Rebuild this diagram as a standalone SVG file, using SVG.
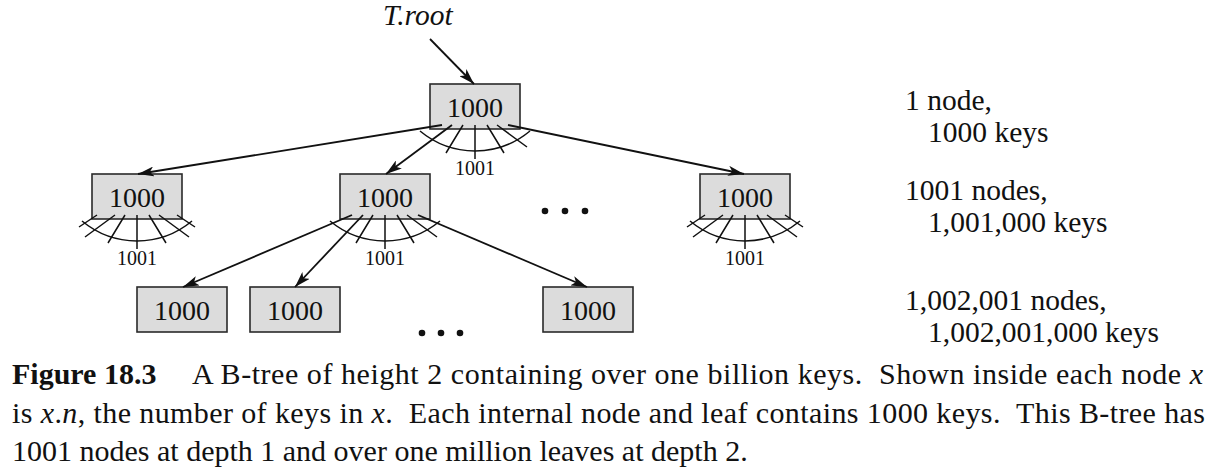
<svg xmlns="http://www.w3.org/2000/svg" xmlns:xlink="http://www.w3.org/1999/xlink" width="1216" height="471" viewBox="0 0 1216 471">
<style>
  .box { fill: #dcdcdc; stroke: #2a2a2a; stroke-width: 1.6; }
  .key { font-family: "Liberation Serif", "Times New Roman", serif; font-size: 28px; text-anchor: middle; fill: #111; }
  .fanl { font-family: "Liberation Serif", "Times New Roman", serif; font-size: 20px; text-anchor: middle; fill: #111; }
  .fan { fill: none; stroke: #111; stroke-width: 1.5; }
  .conn { fill: none; stroke: #111; stroke-width: 1.8; }
  .side { font-family: "Liberation Serif", "Times New Roman", serif; font-size: 29.5px; fill: #111; }
  .cap { font-family: "Liberation Serif", "Times New Roman", serif; font-size: 30px; fill: #111; }
  .dot { fill: #111; }
</style>
<defs>
  <marker id="arr" markerUnits="userSpaceOnUse" viewBox="0 0 16 10" refX="16" refY="5" markerWidth="16" markerHeight="10" orient="auto">
    <path d="M0,0 L16,5 L0,10 L4,5 Z" fill="#111"/>
  </marker>
  <g id="fanInner" class="fan">
    <path d="M-12,0 L-29,28 M0,0 L0,34 M12,0 L29,28 M22,0 L52,22"/>
    <path d="M-55,6 A86,86 0 0 0 55,6"/>
  </g>
  <g id="fanFull" class="fan">
    <path d="M-40,0 L-58,12 M-22,0 L-52,22 M40,0 L58,12"/>
    <use xlink:href="#fanInner"/>
  </g>
</defs>

<g id="troot-label">
  <text class="side" x="383" y="25" font-style="italic" font-size="30">T.root</text>
</g>

<g id="root">
  <rect class="box" x="430" y="84" width="90" height="45"/>
  <text class="key" x="475" y="117">1000</text>
  <use xlink:href="#fanInner" x="475" y="125"/>
  <text class="fanl" x="475" y="175">1001</text>
</g>

<g id="child-left">
  <rect class="box" x="92" y="174" width="90" height="45"/>
  <text class="key" x="137" y="207">1000</text>
  <use xlink:href="#fanFull" x="137" y="215"/>
  <text class="fanl" x="137" y="265">1001</text>
</g>

<g id="child-mid">
  <rect class="box" x="340" y="174" width="90" height="45"/>
  <text class="key" x="385" y="207">1000</text>
  <use xlink:href="#fanInner" x="385" y="215"/>
  <text class="fanl" x="385" y="265">1001</text>
</g>

<g id="child-dots">
  <circle class="dot" cx="545" cy="211" r="3.3"/>
  <circle class="dot" cx="565" cy="211" r="3.3"/>
  <circle class="dot" cx="585" cy="211" r="3.3"/>
</g>

<g id="child-right">
  <rect class="box" x="700" y="174" width="90" height="45"/>
  <text class="key" x="745" y="207">1000</text>
  <use xlink:href="#fanFull" x="745" y="215"/>
  <text class="fanl" x="745" y="265">1001</text>
</g>

<g id="leaf-1">
  <rect class="box" x="137" y="287" width="90" height="45"/>
  <text class="key" x="182" y="320">1000</text>
</g>
<g id="leaf-2">
  <rect class="box" x="250" y="287" width="90" height="45"/>
  <text class="key" x="295" y="320">1000</text>
</g>
<g id="leaf-dots">
  <circle class="dot" cx="422" cy="333" r="3.3"/>
  <circle class="dot" cx="441" cy="333" r="3.3"/>
  <circle class="dot" cx="460" cy="333" r="3.3"/>
</g>
<g id="leaf-3">
  <rect class="box" x="543" y="287" width="90" height="45"/>
  <text class="key" x="588" y="320">1000</text>
</g>

<g id="connectors">
  <line class="conn" x1="430" y1="39" x2="474" y2="84" marker-end="url(#arr)"/>
  <line class="conn" x1="442" y1="125" x2="138" y2="174" marker-end="url(#arr)"/>
  <line class="conn" x1="452" y1="125" x2="386" y2="174" marker-end="url(#arr)"/>
  <line class="conn" x1="508" y1="125" x2="744" y2="174" marker-end="url(#arr)"/>
  <line class="conn" x1="352" y1="215" x2="183" y2="287" marker-end="url(#arr)"/>
  <line class="conn" x1="363" y1="215" x2="295" y2="287" marker-end="url(#arr)"/>
  <line class="conn" x1="418" y1="215" x2="587" y2="287" marker-end="url(#arr)"/>
</g>

<g id="level-notes">
  <text class="side" x="905" y="110">1 node,</text>
  <text class="side" x="928" y="142">1000 keys</text>
  <text class="side" x="905" y="200">1001 nodes,</text>
  <text class="side" x="928" y="232">1,001,000 keys</text>
  <text class="side" x="905" y="310">1,002,001 nodes,</text>
  <text class="side" x="928" y="342">1,002,001,000 keys</text>
</g>

<g id="caption">
  <text class="cap" x="12" y="384" font-weight="bold">Figure 18.3</text>
  <text class="cap" x="192" y="384" xml:space="preserve" textLength="1011" lengthAdjust="spacing">A B-tree of height 2 containing over one billion keys.  Shown inside each node <tspan font-style="italic">x</tspan></text>
  <text class="cap" x="12" y="423" xml:space="preserve" textLength="1193" lengthAdjust="spacing">is <tspan font-style="italic">x</tspan>.<tspan font-style="italic">n</tspan>, the number of keys in <tspan font-style="italic">x</tspan>.  Each internal node and leaf contains 1000 keys.  This B-tree has</text>
  <text class="cap" x="12" y="461">1001 nodes at depth 1 and over one million leaves at depth 2.</text>
</g>
</svg>
